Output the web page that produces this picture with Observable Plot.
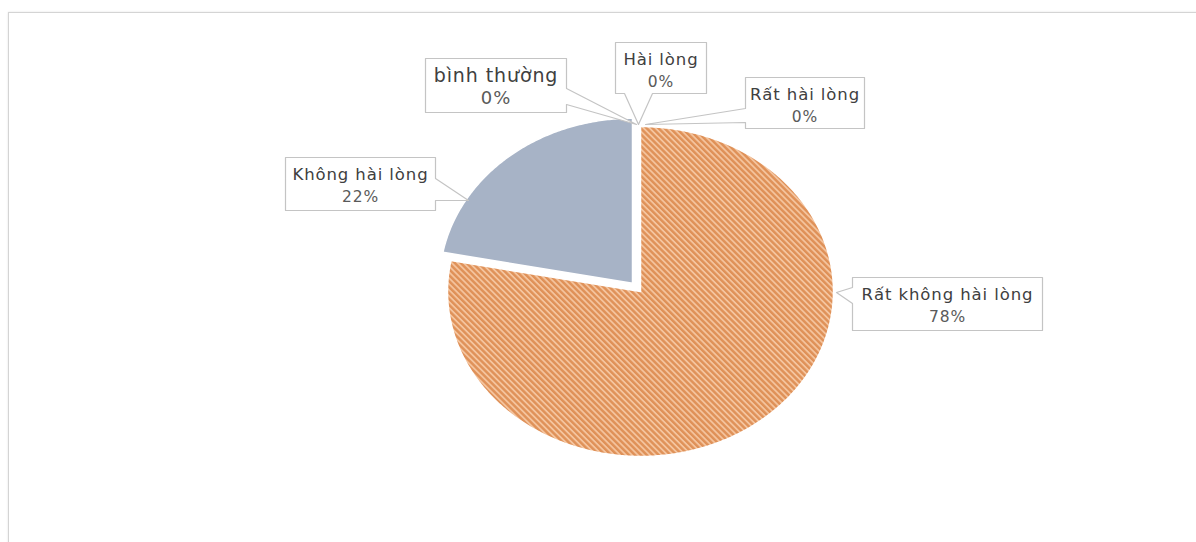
<!DOCTYPE html>
<html><head><meta charset="utf-8">
<script src="https://cdn.jsdelivr.net/npm/d3@7"></script>
<script src="https://cdn.jsdelivr.net/npm/@observablehq/plot@0.6"></script>
<style>
html,body{margin:0;padding:0;background:#fff;overflow:hidden;width:1196px;height:542px}
#wrap{position:relative;width:1196px;height:542px;overflow:hidden}
#frame{position:absolute;left:8px;top:12px;width:1400px;height:800px;border:1px solid #d4d4d4;box-shadow:0 0 2px #e4e4e4}
#chart{position:absolute;left:0;top:0}
#chart text{letter-spacing:0.9px}
</style></head><body>
<div id="wrap"><div id="frame"></div><div id="chart"></div></div>
<script>
// ---- data ----
const categories = ["Rất không hài lòng", "Không hài lòng", "bình thường", "Hài lòng", "Rất hài lòng"];
const values = [78, 22, 0, 0, 0];
const percentLabels = ["78%", "22%", "0%", "0%", "0%"];
const sliceColors = ["url(#hatch)", "#a7b3c6", "#5b9bd5", "#ffc000", "#70ad47"];
const explode = [0, 0.065, 0, 0, 0];

// ---- layout (pixels) ----
const W = 1196, H = 542;
const cx = 640, cy = 291, rx = 193, ry = 165;
// callout boxes: [x1, y1, x2, y2], wedge side, wedge span, tip, font sizes
const callouts = [
  {box: [852, 277, 1042, 330], side: "left", span: [287, 303], tip: [836, 292], fs: [16.5, 15.5]},
  {box: [285, 157, 435, 210], side: "right", span: [178, 200], tip: [468, 200], fs: [16.5, 15.5]},
  {box: [425, 58, 566, 112], side: "right", span: [88, 104], tip: [636, 124], fs: [19, 18]},
  {box: [615, 42, 706, 93], side: "bottom", span: [624, 652], tip: [638, 124], fs: [16.5, 15.5]},
  {box: [745, 77, 864, 128], side: "left", span: [108, 122], tip: [645, 124], fs: [16.5, 15.5]}
];

const ux = px => (px - cx) / rx;
const uy = py => (cy - py) / ry;

const data = categories.map((c, i) => ({category: c, value: values[i], pct: percentLabels[i], color: sliceColors[i], explode: explode[i]}));
const arcs = d3.pie().sort(null).value(d => d.value).startAngle(0).endAngle(2 * Math.PI)(data);

const slices = arcs.filter(a => a.value > 0).map(a => {
  const mid = (a.startAngle + a.endAngle) / 2;
  const dx = a.data.explode * Math.sin(mid), dy = a.data.explode * Math.cos(mid);
  const pts = [{x: dx, y: dy}];
  const n = Math.max(8, Math.ceil((a.endAngle - a.startAngle) / 0.01));
  for (let k = 0; k <= n; k++) {
    const t = a.startAngle + (a.endAngle - a.startAngle) * k / n;
    pts.push({x: dx + Math.sin(t), y: dy + Math.cos(t)});
  }
  pts.push({x: dx, y: dy});
  return {color: a.data.color, pts};
});

function calloutPoly(c) {
  const [x1, y1, x2, y2] = c.box, [a, b] = c.span, tip = c.tip;
  let p;
  if (c.side === "right") p = [[x1,y1],[x2,y1],[x2,a],tip,[x2,b],[x2,y2],[x1,y2],[x1,y1]];
  else if (c.side === "left") p = [[x1,y1],[x2,y1],[x2,y2],[x1,y2],[x1,b],tip,[x1,a],[x1,y1]];
  else p = [[x1,y1],[x2,y1],[x2,y2],[b,y2],tip,[a,y2],[x1,y2],[x1,y1]];
  return p.map(([px, py]) => ({x: ux(px), y: uy(py)}));
}

const labelData = data.map((d, i) => {
  const c = callouts[i], [x1, y1, x2] = c.box;
  return {name: d.category, pct: d.pct, x: ux((x1 + x2) / 2), y1: uy(y1 + 17), y2: uy(y1 + 40), fs1: c.fs[0], fs2: c.fs[1]};
});

const defs = () => {
  const ns = "http://www.w3.org/2000/svg";
  const g = document.createElementNS(ns, "defs");
  g.innerHTML = `<pattern id="hatch" patternUnits="userSpaceOnUse" width="4.2" height="4.2" patternTransform="rotate(-45)">
      <rect width="4.2" height="4.2" fill="#f4c49e"></rect>
      <rect x="0" y="0" width="2.4" height="4.2" fill="#df9158"></rect>
    </pattern>`;
  return g;
};

const marks = [defs];
for (const s of slices) {
  marks.push(Plot.line(s.pts, {x: "x", y: "y", fill: s.color, stroke: "white", strokeWidth: 1.5, curve: "linear"}));
}
callouts.forEach(c => {
  marks.push(Plot.line(calloutPoly(c), {x: "x", y: "y", fill: "white", stroke: "#c4c4c4", strokeWidth: 1.2, curve: "linear"}));
});
marks.push(Plot.text(labelData, {x: "x", y: "y1", text: "name", fill: "#404040", fontSize: "fs1"}));
marks.push(Plot.text(labelData, {x: "x", y: "y2", text: "pct", fill: "#5a5a5a", fontSize: "fs2"}));

const chart = Plot.plot({
  width: W, height: H,
  margin: 0,
  style: {fontFamily: "'DejaVu Sans', sans-serif", background: "transparent", overflow: "visible"},
  x: {domain: [-1, 1], range: [cx - rx, cx + rx], axis: null},
  y: {domain: [-1, 1], range: [cy + ry, cy - ry], axis: null},
  marks
});
document.getElementById("chart").append(chart);
</script>
</body></html>
